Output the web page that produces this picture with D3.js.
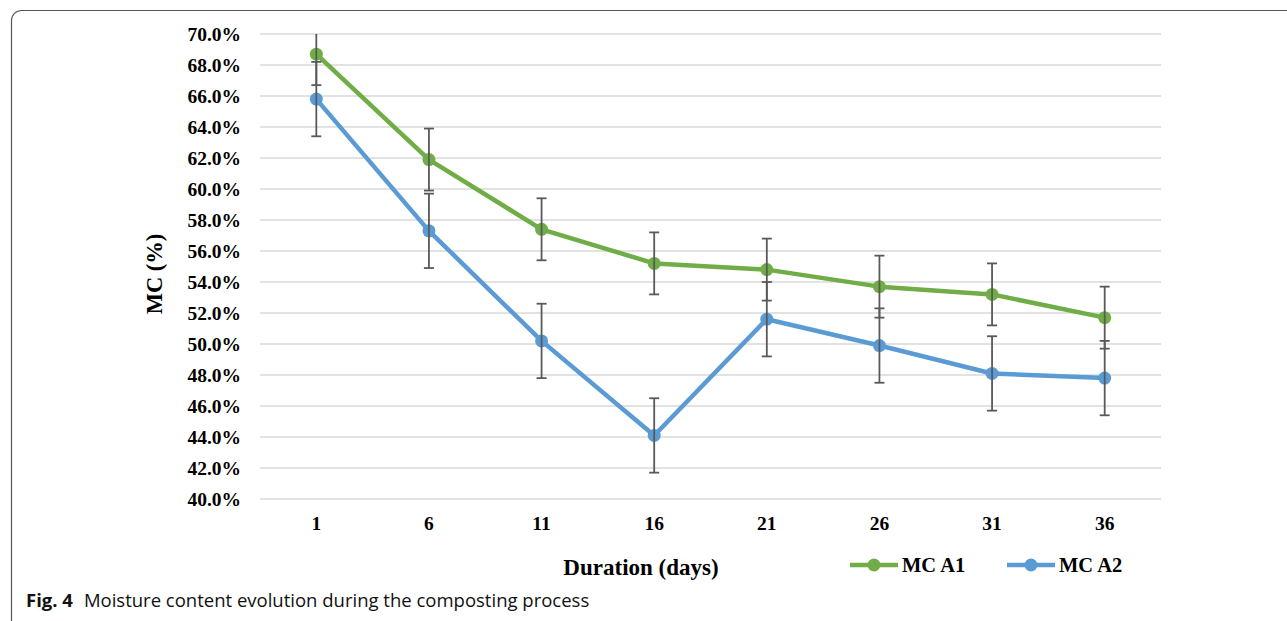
<!DOCTYPE html>
<html><head><meta charset="utf-8">
<script src="https://cdn.jsdelivr.net/npm/d3@7"></script>
<style>body{margin:0;background:#fff}svg{display:block}</style>
</head><body>
<svg id="chart" width="1287" height="621"></svg>
<script>
const days = ["1","6","11","16","21","26","31","36"];
const mcA1 = [68.7, 61.9, 57.4, 55.2, 54.8, 53.7, 53.2, 51.7];
const mcA2 = [65.8, 57.3, 50.2, 44.1, 51.6, 49.9, 48.1, 47.8];
const errA1 = [2.0, 2.0, 2.0, 2.0, 2.0, 2.0, 2.0, 2.0];
const errA2 = [2.4, 2.4, 2.4, 2.4, 2.4, 2.4, 2.4, 2.4];
const yTicks = [40,42,44,46,48,50,52,54,56,58,60,62,64,66,68,70];
const seriesNames = ["MC A1","MC A2"];
const colors = ["#70AD47","#5B9BD5"];

const svg = d3.select("#chart");
const serif = "'Liberation Serif','Times New Roman',serif";

// frame
svg.append("rect").attr("x",11.5).attr("y",10.5).attr("width",1400).attr("height",625)
  .attr("rx",10).attr("fill","none").attr("stroke","#555").attr("stroke-width",1.2);

const x = d3.scaleBand().domain(days).range([260,1161]);
const y = d3.scaleLinear().domain([40,70]).range([499,34]);

// gridlines
svg.append("g").selectAll("line").data(yTicks).join("line")
  .attr("x1",260).attr("x2",1161).attr("y1",d=>y(d)).attr("y2",d=>y(d))
  .attr("stroke","#d9d9d9").attr("stroke-width",1.5);

// y axis
const yAxis = svg.append("g").attr("transform","translate(241,0)")
  .call(d3.axisLeft(y).tickValues(yTicks).tickSize(0).tickPadding(0).tickFormat(d=>d.toFixed(1)+"%"));
yAxis.select(".domain").remove();
yAxis.selectAll("text").attr("font-family",serif).attr("font-weight","bold").attr("font-size",19.5).attr("fill","#000");

// x axis
const xAxis = svg.append("g").attr("transform","translate(0,516)")
  .call(d3.axisBottom(x).tickSize(0).tickPadding(0));
xAxis.select(".domain").remove();
xAxis.selectAll("text").attr("font-family",serif).attr("font-weight","bold").attr("font-size",19.5).attr("fill","#000");

// axis titles
svg.append("text").attr("x",641).attr("y",575).attr("text-anchor","middle")
  .attr("font-family",serif).attr("font-weight","bold").attr("font-size",23).text("Duration (days)");
svg.append("text").attr("transform","translate(162,274) rotate(-90)").attr("text-anchor","middle")
  .attr("font-family",serif).attr("font-weight","bold").attr("font-size",22.5).text("MC (%)");

const cx = d => x(d) + x.bandwidth()/2;
const series = [[mcA1,errA1],[mcA2,errA2]];
series.forEach(([vals,errs],i)=>{
  const g = svg.append("g");
  const pts = days.map((d,j)=>({d, v:vals[j], e:errs[j]}));
  g.append("path").datum(pts).attr("fill","none").attr("stroke",colors[i]).attr("stroke-width",4.5)
    .attr("stroke-linejoin","round")
    .attr("d", d3.line().x(p=>cx(p.d)).y(p=>y(p.v)));
  g.selectAll("circle").data(pts).join("circle").attr("cx",p=>cx(p.d)).attr("cy",p=>y(p.v))
    .attr("r",6.5).attr("fill",colors[i]);
  const eb = g.append("g").attr("stroke","#595959").attr("stroke-width",1.8);
  pts.forEach(p=>{
    const top = y(Math.min(70,p.v+p.e)), bot = y(Math.max(40,p.v-p.e)), c = cx(p.d);
    eb.append("line").attr("x1",c).attr("x2",c).attr("y1",top).attr("y2",bot);
    if (p.v+p.e <= 70) eb.append("line").attr("x1",c-5).attr("x2",c+5).attr("y1",top).attr("y2",top);
    eb.append("line").attr("x1",c-5).attr("x2",c+5).attr("y1",bot).attr("y2",bot);
  });
});

// legend
const legX = [850, 1007];
seriesNames.forEach((n,i)=>{
  const g = svg.append("g").attr("transform",`translate(${legX[i]},565)`);
  g.append("line").attr("x1",0).attr("x2",48).attr("stroke",colors[i]).attr("stroke-width",4.5);
  g.append("circle").attr("cx",24).attr("r",6.5).attr("fill",colors[i]);
  g.append("text").attr("x",52).attr("y",7).attr("font-family",serif).attr("font-weight","bold")
    .attr("font-size",20.5).text(n);
});

// caption
const cap = svg.append("text").attr("x",26).attr("y",607).attr("font-family","'Open Sans','Noto Sans',sans-serif")
  .attr("font-size",18.5).attr("fill","#111");
cap.append("tspan").attr("font-weight","bold").text("Fig. 4");
cap.append("tspan").attr("dx",11).text("Moisture content evolution during the composting process");
</script>
</body></html>
